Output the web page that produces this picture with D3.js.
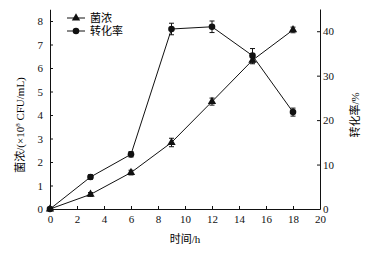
<!DOCTYPE html>
<html><head><meta charset="utf-8">
<script src="https://cdn.jsdelivr.net/npm/d3@7"></script>
<style>body{margin:0;background:#fff}text{font-family:"Liberation Serif","Noto Sans CJK SC",serif;}</style>
</head><body><svg id="c" width="372" height="253"></svg>
<script>
const hours = [0, 3, 6, 9, 12, 15, 18];
const cellDensity = [0, 0.62, 1.55, 2.83, 4.57, 6.33, 7.62];
const cellErr = [0, 0.08, 0.1, 0.18, 0.15, 0.15, 0.12];
const conversion = [0, 7.2, 12.3, 40.5, 41.0, 34.5, 21.8];
const convErr = [0, 0.5, 0.6, 1.3, 1.3, 1.6, 0.9];
const xTicks = [0, 2, 4, 6, 8, 10, 12, 14, 16, 18, 20];
const yLeftTicks = [0, 1, 2, 3, 4, 5, 6, 7, 8];
const yRightTicks = [0, 10, 20, 30, 40];

const svg = d3.select("#c");
const x = d3.scaleLinear().domain([0, 20]).range([50, 320]);
const yL = d3.scaleLinear().domain([0, 8.5]).range([209, 9.25]);
const yR = d3.scaleLinear().domain([0, 45]).range([209, 9]);
const fs = 11;

// axes
const gx = svg.append("g").attr("transform", "translate(0,209)")
  .call(d3.axisBottom(x).tickValues(xTicks).tickSizeInner(-3).tickSizeOuter(0).tickPadding(6));
const gl = svg.append("g").attr("transform", "translate(50,0)")
  .call(d3.axisLeft(yL).tickValues(yLeftTicks).tickSizeInner(-3).tickSizeOuter(0).tickPadding(7));
const gr = svg.append("g").attr("transform", "translate(320,0)")
  .call(d3.axisRight(yR).tickValues(yRightTicks).tickSizeInner(-3).tickSizeOuter(0).tickPadding(3));
[gx, gl, gr].forEach(g => {
  g.selectAll("text").attr("font-size", fs).attr("fill", "#111")
    .style("font-family", '"Liberation Serif",serif');
  g.selectAll("line,path").attr("stroke", "#111");
});

// lines
const lineL = d3.line().x((d, i) => x(hours[i])).y(d => yL(d));
const lineR = d3.line().x((d, i) => x(hours[i])).y(d => yR(d));
svg.append("path").attr("d", lineL(cellDensity)).attr("fill", "none").attr("stroke", "#111").attr("stroke-width", 1);
svg.append("path").attr("d", lineR(conversion)).attr("fill", "none").attr("stroke", "#111").attr("stroke-width", 1);

// error bars
function errBars(vals, errs, scale) {
  vals.forEach((v, i) => {
    if (!errs[i]) return;
    const cx = x(hours[i]), y1 = scale(v + errs[i]), y2 = scale(v - errs[i]);
    svg.append("line").attr("x1", cx).attr("x2", cx).attr("y1", y1).attr("y2", y2).attr("stroke", "#111");
    [y1, y2].forEach(yy => svg.append("line").attr("x1", cx - 2.5).attr("x2", cx + 2.5).attr("y1", yy).attr("y2", yy).attr("stroke", "#111"));
  });
}
errBars(cellDensity, cellErr, yL);
errBars(conversion, convErr, yR);

// markers
const tri = d3.symbol().type(d3.symbolTriangle).size(30);
cellDensity.forEach((v, i) => svg.append("path").attr("d", tri())
  .attr("transform", `translate(${x(hours[i])},${yL(v)})`).attr("fill", "#111"));
conversion.forEach((v, i) => svg.append("circle").attr("cx", x(hours[i])).attr("cy", yR(v)).attr("r", 3.3).attr("fill", "#111"));

// legend
const lg = svg.append("g");
lg.append("line").attr("x1", 67).attr("x2", 85).attr("y1", 18).attr("y2", 18).attr("stroke", "#111");
lg.append("path").attr("d", tri()).attr("transform", "translate(76,18)").attr("fill", "#111");
lg.append("text").attr("x", 90).attr("y", 22).attr("font-size", fs).text("菌浓");
lg.append("line").attr("x1", 67).attr("x2", 85).attr("y1", 31).attr("y2", 31).attr("stroke", "#111");
lg.append("circle").attr("cx", 76).attr("cy", 31).attr("r", 3.3).attr("fill", "#111");
lg.append("text").attr("x", 90).attr("y", 35).attr("font-size", fs).text("转化率");

// axis titles
svg.append("text").attr("x", 185).attr("y", 243).attr("text-anchor", "middle").attr("font-size", fs).text("时间/h");
const tl = svg.append("text").attr("transform", "translate(24,125) rotate(-90)").attr("text-anchor", "middle").attr("font-size", fs);
tl.append("tspan").text("菌浓/(×10");
tl.append("tspan").attr("font-size", 7).attr("dy", -4).text("8");
tl.append("tspan").attr("dy", 4).text(" CFU/mL)");
svg.append("text").attr("transform", "translate(359,115) rotate(-90)").attr("text-anchor", "middle").attr("font-size", fs).text("转化率/%");
</script></body></html>
